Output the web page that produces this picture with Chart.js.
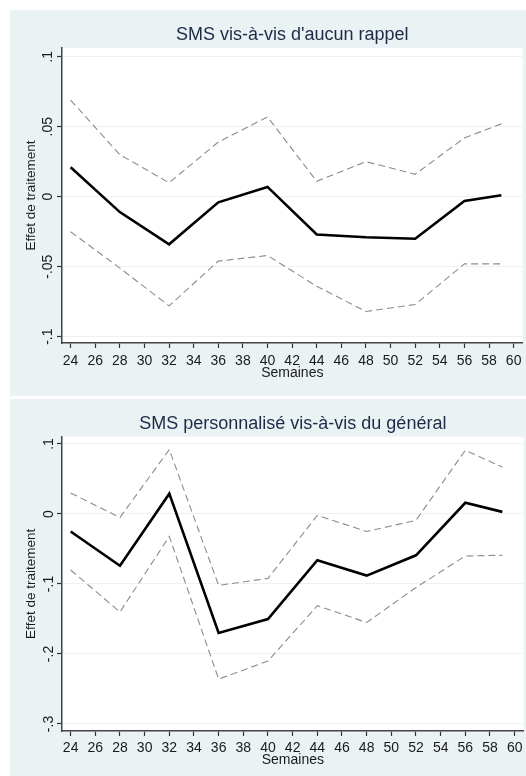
<!DOCTYPE html>
<html>
<head>
<meta charset="utf-8">
<script src="https://cdn.jsdelivr.net/npm/chart.js@4.4.0/dist/chart.umd.min.js"></script>
<style>
  html, body { margin: 0; padding: 0; background: #fff; }
  #page { position: relative; width: 526px; height: 776px; overflow: hidden; }
  canvas { position: absolute; left: 10px; background: #eaf2f3; }
  #g1 { top: 10px; }
  #g2 { top: 399px; }
</style>
</head>
<body>
<div id="page">
  <canvas id="g1" width="516" height="386"></canvas>
  <canvas id="g2" width="516" height="377"></canvas>
</div>
<script>
// semaines
var weeks = [24, 28, 32, 36, 40, 44, 48, 52, 56, 59];
var xTicks = [24, 26, 28, 30, 32, 34, 36, 38, 40, 42, 44, 46, 48, 50, 52, 54, 56, 58, 60];

// SMS vis-a-vis d'aucun rappel
var effet1 = [0.021, -0.011, -0.034, -0.004, 0.007, -0.027, -0.029, -0.030, -0.003, 0.001];
var haut1  = [0.069, 0.030, 0.010, 0.039, 0.057, 0.011, 0.025, 0.016, 0.042, 0.052];
var bas1   = [-0.025, -0.051, -0.078, -0.046, -0.042, -0.064, -0.082, -0.077, -0.048, -0.048];
var yTicks1 = [-0.1, -0.05, 0, 0.05, 0.1];

// SMS personnalise vis-a-vis du general
var effet2 = [-0.025, -0.074, 0.029, -0.170, -0.150, -0.066, -0.088, -0.059, 0.016, 0.003];
var haut2  = [0.030, -0.005, 0.092, -0.102, -0.092, -0.002, -0.025, -0.009, 0.091, 0.067];
var bas2   = [-0.080, -0.140, -0.032, -0.236, -0.210, -0.131, -0.155, -0.105, -0.060, -0.059];
var yTicks2 = [-0.3, -0.2, -0.1, 0, 0.1];

Chart.defaults.font.family = '"Liberation Sans", Arial, sans-serif';
Chart.defaults.color = '#1a1a1a';

// fond gris-bleu + zone du graphique blanche
var fondPlot = {
    id: 'fondPlot',
    beforeDraw: function(chart) {
        var a = chart.chartArea, ctx = chart.ctx;
        ctx.save();
        ctx.fillStyle = '#eaf2f3';
        ctx.fillRect(0, 0, chart.width, chart.height);
        ctx.fillStyle = '#ffffff';
        ctx.fillRect(a.left, a.top, a.right - a.left, a.bottom - a.top);
        ctx.restore();
    }
};

// format Stata : .05, -.1 ...
function stataFmt(v) {
    var s = String(Math.round(v * 1000) / 1000);
    return s.replace(/^(-?)0\./, '$1.');
}

function pts(vals) {
    return weeks.map(function(w, i) { return {x: w, y: vals[i]}; });
}

function makeChart(id, titre, effet, haut, bas, yTicks, o) {
    var ctx = document.getElementById(id).getContext('2d');
    var dash = {borderColor: '#8c8c8c', borderWidth: 1.1, borderDash: [7, 4], pointRadius: 0, tension: 0, fill: false};
    return new Chart(ctx, {
        type: 'line',
        data: {
            datasets: [
                {data: pts(effet), borderColor: '#000', borderWidth: 2.6, pointRadius: 0, tension: 0, fill: false},
                Object.assign({data: pts(haut)}, dash),
                Object.assign({data: pts(bas)}, dash)
            ]
        },
        options: {
            responsive: false,
            animation: false,
            devicePixelRatio: 1,
            layout: {padding: 0},
            plugins: {
                legend: {display: false},
                tooltip: {enabled: false},
                title: {
                    display: true, text: titre, fullSize: false,
                    color: '#1c2a48', font: {size: 18, weight: 'normal'},
                    padding: {top: o.titleTop, bottom: o.titleBottom}
                }
            },
            scales: {
                x: {
                    type: 'linear', min: 23.3, max: 60.73,
                    afterBuildTicks: function(s) { s.ticks = xTicks.map(function(v) { return {value: v}; }); },
                    afterFit: function(s) { s.height = o.xHeight; },
                    grid: {drawOnChartArea: false, tickLength: 5, tickColor: '#333', tickWidth: 1.2},
                    border: {color: '#444', width: 1.5},
                    ticks: {font: {size: 14}, padding: o.xPad, maxRotation: 0, autoSkip: false},
                    title: {display: true, text: 'Semaines', font: {size: 14}, padding: {top: 0, bottom: o.semPad}}
                },
                y: {
                    min: o.yMin, max: o.yMax,
                    afterBuildTicks: function(s) { s.ticks = yTicks.map(function(v) { return {value: v}; }); },
                    afterFit: function(s) { s.width = 52; },
                    grid: {color: '#eaf2f3', lineWidth: 1, tickLength: 5, tickColor: '#333', tickWidth: 1.2},
                    border: {color: '#444', width: 1.5},
                    ticks: {font: {size: 14}, minRotation: 90, maxRotation: 90, crossAlign: 'center', padding: o.yPad, callback: stataFmt},
                    title: {display: true, text: 'Effet de traitement', font: {size: 13.5}, padding: {top: 13, bottom: 0}}
                }
            }
        },
        plugins: [fondPlot]
    });
}

makeChart('g1', "SMS vis-à-vis d'aucun rappel", effet1, haut1, bas1, yTicks1,
    {yMin: -0.1045, yMax: 0.1062, titleTop: 14.5, titleBottom: 1.9, xHeight: 53, xPad: 4.5, semPad: 14, yPad: -2.8});
makeChart('g2', 'SMS personnalisé vis-à-vis du général', effet2, haut2, bas2, yTicks2,
    {yMin: -0.31, yMax: 0.1104, titleTop: 14, titleBottom: 2.1, xHeight: 45, xPad: 3.5, semPad: 7.5, yPad: -0.5});
</script>
</body>
</html>
